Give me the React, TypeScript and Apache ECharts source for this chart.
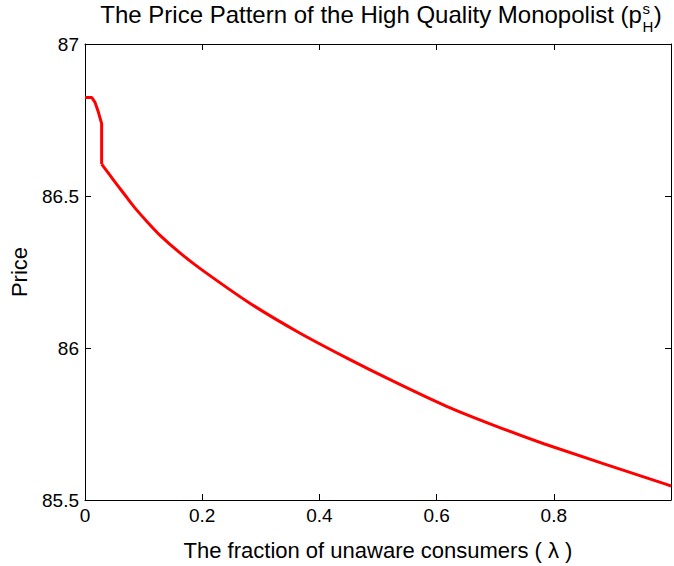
import React, { useEffect, useRef } from "react";
import * as echarts from "echarts";

// lambda (fraction of unaware consumers) and price of the high quality monopolist
const lambdaValues = [
  0, 0.0116, 0.0171, 0.0228, 0.0284, 0.0284, 0.0396, 0.0507, 0.0675, 0.083,
  0.1067, 0.129, 0.1626, 0.196, 0.28, 0.364, 0.448, 0.532, 0.616, 0.7, 0.783,
  0.991, 1.0,
];
const priceValues = [
  86.824, 86.824, 86.808, 86.776, 86.738, 86.605, 86.576, 86.547, 86.505,
  86.466, 86.414, 86.369, 86.312, 86.262, 86.149, 86.052, 85.966, 85.885,
  85.809, 85.744, 85.685, 85.552, 85.546,
];
// index where the jump ends and the smooth part begins
const jumpEndIndex = 5;

const xTickLabels = ["0", "0.2", "0.4", "0.6", "0.8", ""];
const yTickLabels = ["85.5", "86", "86.5", "87"];

const titleMain = "The Price Pattern of the High Quality Monopolist (p";
const titleSup = "s";
const titleSub = "H";
const titleEnd = ")";
const xName = "The fraction of unaware consumers ( \u03bb )";
const yName = "Price";

const FONT_NAME = "Liberation Sans";
const FONT = "'Liberation Sans', Arial, Helvetica, sans-serif";

function measure(text: string, size: number): number {
  const c = document.createElement("canvas");
  const ctx = c.getContext("2d");
  if (!ctx) return text.length * size * 0.5;
  ctx.font = `${size}px '${FONT_NAME}', Arial, sans-serif`;
  return ctx.measureText(text).width;
}

export default function App() {
  const ref = useRef<HTMLDivElement>(null);
  useEffect(() => {
    if (!ref.current) return;
    const chart = echarts.init(ref.current, undefined, { renderer: "svg" });
    const xMin = 0,
      xMax = 1,
      xInt = 0.2;
    const yMin = 85.5,
      yMax = 87,
      yInt = 0.5;
    const xFmt = (v: number) => {
      const i = Math.round((v - xMin) / xInt);
      return xTickLabels[i] ?? "";
    };
    const yFmt = (v: number) => {
      const i = Math.round((v - yMin) / yInt);
      return yTickLabels[i] ?? "";
    };
    const axisCommon = {
      type: "value" as const,
      axisLine: { show: true, onZero: false, lineStyle: { color: "#000", width: 1 } },
      axisTick: { show: true, inside: true, length: 6, lineStyle: { color: "#000", width: 1 } },
      splitLine: { show: false },
    };
    const pts = lambdaValues.map((x, i) => [x, priceValues[i]]);
    const lineStyle = { color: "#ff0000", width: 3 };

    // title layout (main text + stacked super/subscript)
    const mainSize = 24;
    const scriptSize = 15;
    const wMain = measure(titleMain, mainSize);
    const wS = measure(titleSup, scriptSize);
    const wH = measure(titleSub, scriptSize);
    const wEnd = measure(titleEnd, mainSize);
    const wScript = Math.max(wS, wH) + 1;
    const total = wMain + wScript + wEnd;
    const centerX = 381;
    const x0 = centerX - total / 2;
    const mainBaseline = 22.5;
    const k = 0.3465;
    const txt = (text: string, x: number, baseline: number, size: number) => ({
      type: "text",
      x,
      y: baseline - k * size,
      silent: true,
      style: {
        text,
        fontSize: size,
        fontFamily: FONT,
        fontWeight: "normal",
        fill: "#000",
        align: "left",
        verticalAlign: "middle",
      },
    });

    chart.setOption({
      animation: false,
      backgroundColor: "#fff",
      graphic: [
        txt(titleMain, x0, mainBaseline, mainSize),
        txt(titleSup, x0 + wMain + 0.5, 13.5, scriptSize),
        txt(titleSub, x0 + wMain + 0.5, 31.5, scriptSize),
        txt(titleEnd, x0 + wMain + wScript, mainBaseline, mainSize),
      ],
      grid: { left: 83, top: 44, width: 596, height: 463, containLabel: false },
      xAxis: [
        {
          ...axisCommon,
          position: "bottom",
          min: xMin,
          max: xMax,
          interval: xInt,
          axisLabel: { margin: 6, fontSize: 19, color: "#000", fontFamily: FONT, formatter: xFmt },
          name: xName,
          nameLocation: "middle",
          nameGap: 39,
          nameTextStyle: { fontSize: 22, color: "#000", fontFamily: FONT },
        },
        {
          ...axisCommon,
          position: "top",
          min: xMin,
          max: xMax,
          interval: xInt,
          axisLabel: { show: false },
        },
      ],
      yAxis: [
        {
          ...axisCommon,
          position: "left",
          min: yMin,
          max: yMax,
          interval: yInt,
          axisLabel: { margin: 6, fontSize: 19, color: "#000", fontFamily: FONT, formatter: yFmt },
          name: yName,
          nameLocation: "middle",
          nameGap: 55,
          nameRotate: 90,
          nameTextStyle: { fontSize: 22, color: "#000", fontFamily: FONT },
        },
        {
          ...axisCommon,
          position: "right",
          min: yMin,
          max: yMax,
          interval: yInt,
          axisLabel: { show: false },
        },
      ],
      series: [
        {
          type: "line",
          data: pts.slice(0, jumpEndIndex + 1),
          showSymbol: false,
          symbol: "none",
          lineStyle,
          clip: true,
        },
        {
          type: "line",
          data: pts.slice(jumpEndIndex),
          showSymbol: false,
          symbol: "none",
          smooth: 0.3,
          lineStyle,
          clip: true,
        },
      ],
    });
    return () => chart.dispose();
  }, []);
  return (
    <div
      ref={ref}
      style={{ position: "absolute", left: 0, top: 0, width: 674, height: 566 }}
    />
  );
}
